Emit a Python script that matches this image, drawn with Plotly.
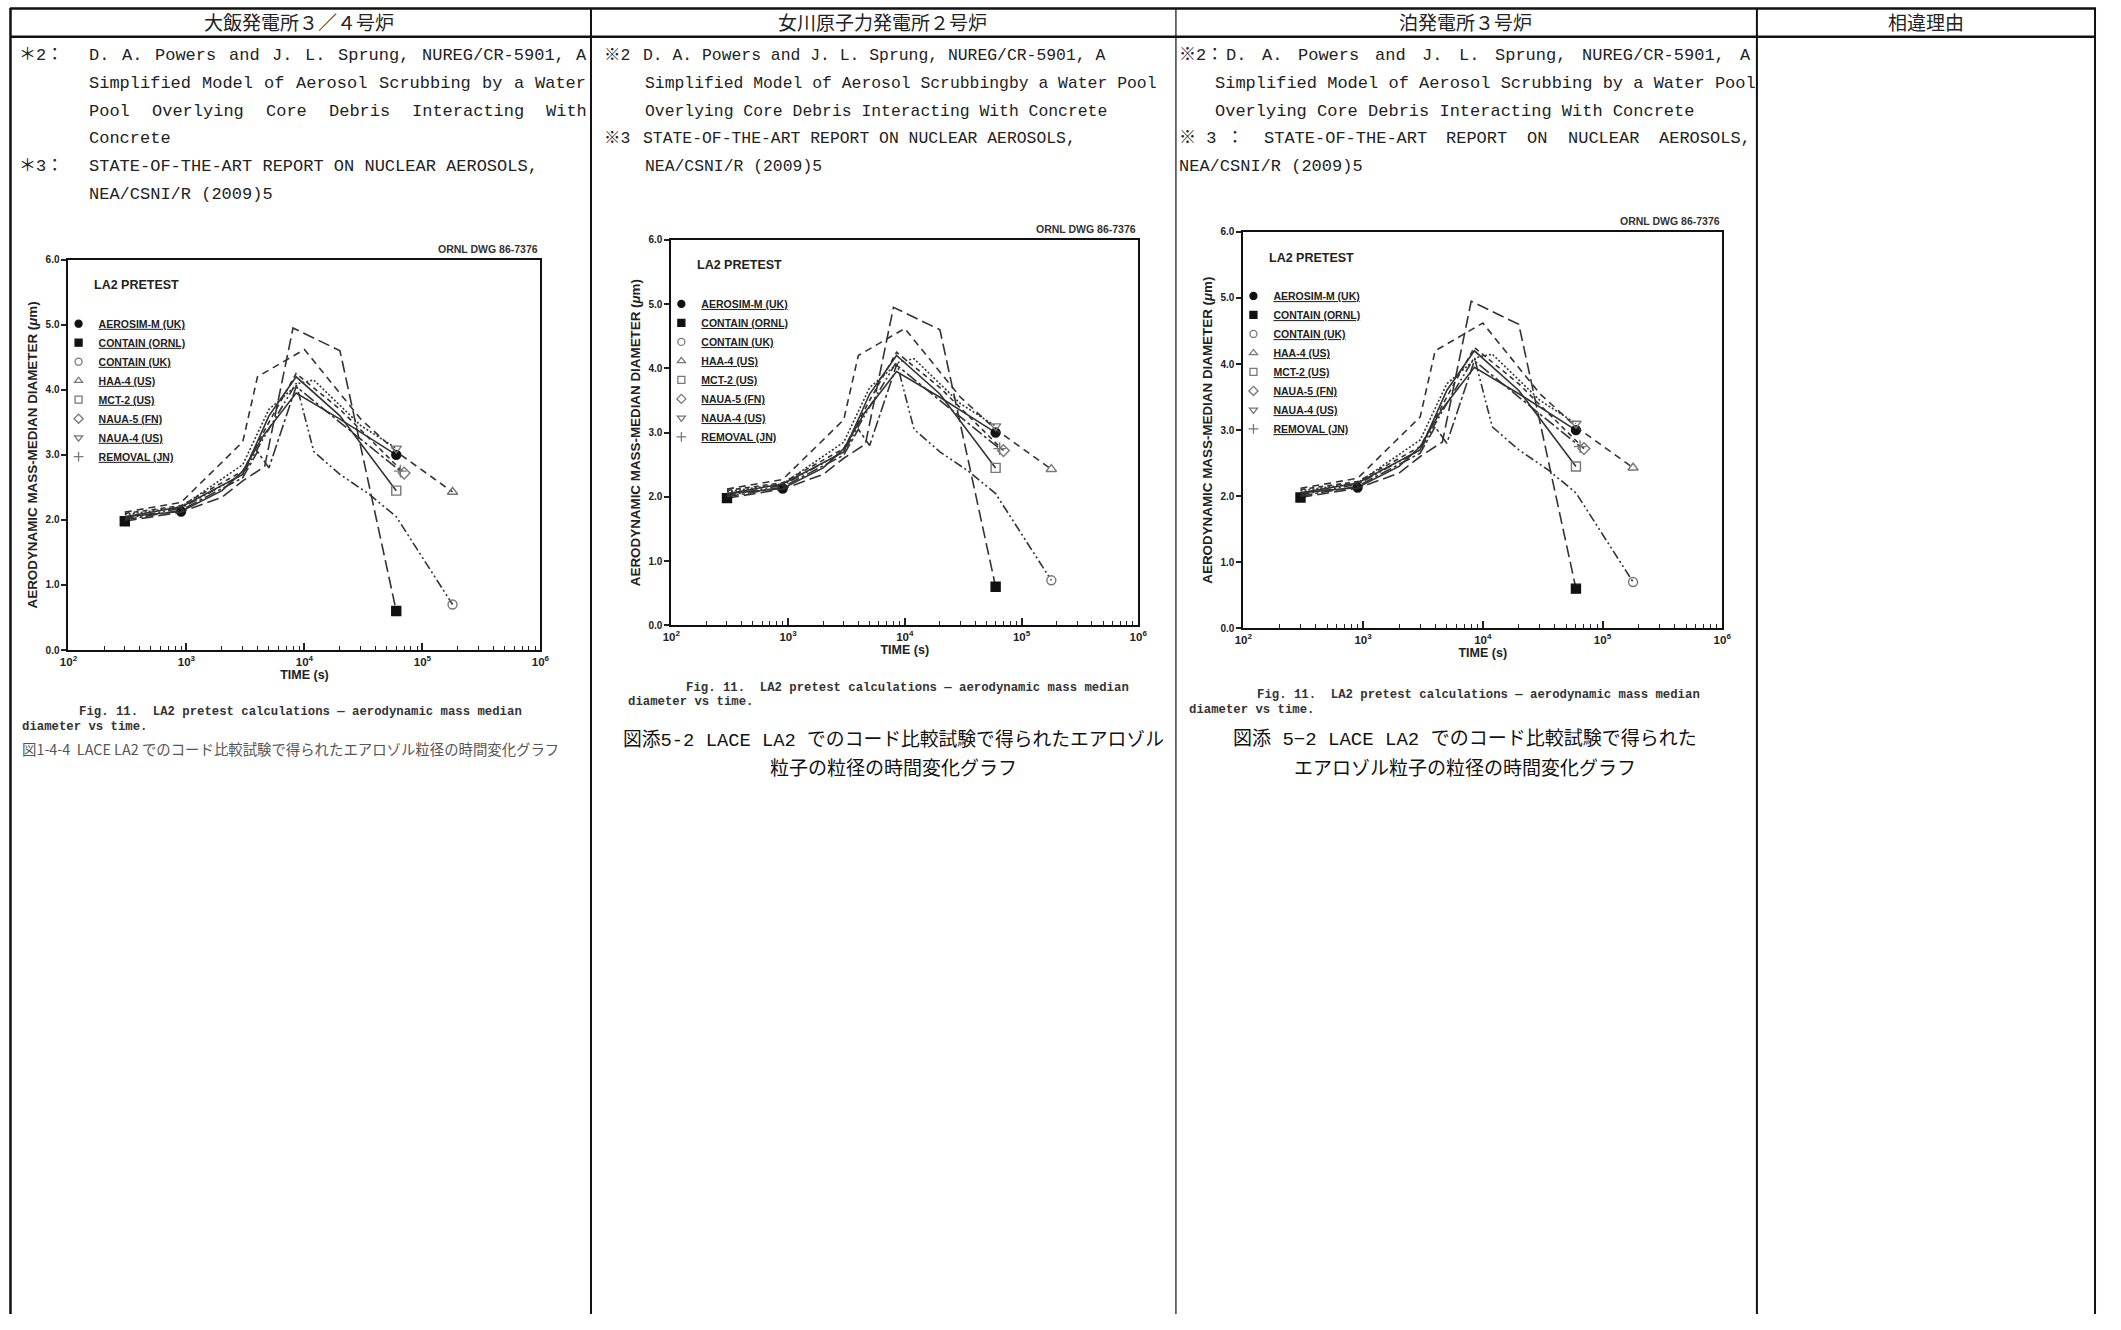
import numpy as np
import plotly.graph_objects as go

# The photographed page shows the figure inset by a small border, so the
# figure is sized to leave that border inside the 2121x1330 window.
OFF_X, OFF_Y = 8, 5
FW, FH = 2121 - 16, 1330 - 16

# ---------------- data ----------------
MODEL_NAMES = ["AEROSIM-M (UK)", "CONTAIN (ORNL)", "CONTAIN (UK)", "HAA-4 (US)",
               "MCT-2 (US)", "NAUA-5 (FN)", "NAUA-4 (US)", "REMOVAL (JN)"]

AEROSIM_TIME = [300, 900, 2000, 3000, 4500, 8500, 20000, 60000]
AEROSIM_DMM = [2.05, 2.13, 2.45, 2.75, 3.30, 3.95, 3.55, 3.00]

CONTAIN_ORNL_TIME = [300, 900, 2000, 3000, 4600, 8000, 20000, 60000]
CONTAIN_ORNL_DMM = [1.98, 2.12, 2.35, 2.60, 2.82, 4.95, 4.60, 0.60]

CONTAIN_UK_TIME = [300, 900, 3000, 5000, 8500, 12000, 20000, 35000, 60000, 180000]
CONTAIN_UK_DMM = [2.02, 2.18, 2.70, 3.40, 4.10, 3.05, 2.70, 2.40, 2.05, 0.70]

HAA4_TIME = [300, 900, 3000, 4000, 10000, 30000, 60000, 180000]
HAA4_DMM = [2.12, 2.27, 3.20, 4.20, 4.62, 3.55, 3.05, 2.43]

MCT2_TIME = [300, 900, 3000, 5000, 8500, 20000, 60000]
MCT2_DMM = [2.05, 2.20, 2.70, 3.60, 4.20, 3.60, 2.45]

NAUA5_TIME = [300, 900, 3000, 5000, 8500, 20000, 70000]
NAUA5_DMM = [2.10, 2.22, 2.75, 3.50, 4.25, 3.70, 2.72]

NAUA4_TIME = [300, 900, 3000, 5000, 9000, 12000, 30000, 60000]
NAUA4_DMM = [2.08, 2.20, 2.85, 3.70, 4.10, 4.15, 3.45, 3.10]

REMOVAL_TIME = [300, 900, 3000, 4000, 5000, 8500, 20000, 65000]
REMOVAL_DMM = [2.00, 2.15, 2.65, 3.05, 2.80, 4.05, 3.50, 2.75]

SERIES_TIME = [AEROSIM_TIME, CONTAIN_ORNL_TIME, CONTAIN_UK_TIME, HAA4_TIME,
               MCT2_TIME, NAUA5_TIME, NAUA4_TIME, REMOVAL_TIME]
SERIES_DMM = [AEROSIM_DMM, CONTAIN_ORNL_DMM, CONTAIN_UK_DMM, HAA4_DMM,
              MCT2_DMM, NAUA5_DMM, NAUA4_DMM, REMOVAL_DMM]

X_TICK_EXPONENTS = [2, 3, 4, 5, 6]
Y_TICKS = [0, 1, 2, 3, 4, 5, 6]
REFERENCE_TIME = 3000

HEADERS = ["大飯発電所３／４号炉", "女川原子力発電所２号炉", "泊発電所３号炉", "相違理由"]

# ---------------- styles ----------------
LINE_COLOR = "#333333"
STYLES = [
    dict(dash="solid", symbol="circle", mcolor="#111", marked=[1, -1]),
    dict(dash="12px,5px", symbol="square", mcolor="#111", marked=[0, -1]),
    dict(dash="9px,3px,2px,3px,2px,3px", symbol="circle-open", mcolor="#777", marked=[-1]),
    dict(dash="7px,5px", symbol="triangle-up-open", mcolor="#777", marked=[-1]),
    dict(dash="solid", symbol="square-open", mcolor="#777", marked=[-1]),
    dict(dash="5px,4px", symbol="diamond-open", mcolor="#777", marked=[-1]),
    dict(dash="2px,2px", symbol="triangle-down-open", mcolor="#777", marked=[-1]),
    dict(dash="12px,3px,3px,3px", symbol="cross-thin-open", mcolor="#777", marked=[-1]),
]

SANS = "Liberation Sans, Arial, sans-serif"
MONO = "Liberation Mono, Noto Sans CJK JP, monospace"
CJK = "Noto Sans CJK JP, sans-serif"

# chart boxes in page pixels: left, right, top, bottom
BOXES = [(68, 544, 261, 655), (676, 1147, 241, 630), (1253, 1736, 233, 633)]


def px(x):
    return (x - OFF_X) / FW


def py(y):
    return 1 - (y - OFF_Y) / FH


fig = go.Figure()
annotations = []
shapes = []


def ann(text, x, y, size, family, color="#222", xanchor="left", yanchor="middle", weight="normal"):
    annotations.append(dict(text=text, x=px(x), y=py(y), xref="paper", yref="paper",
                            showarrow=False, xanchor=xanchor, yanchor=yanchor,
                            font=dict(family=family, size=size, color=color, weight=weight)))


def justify(words, x0, x1, y, size):
    cw = 0.6 * size
    total = sum(len(w) for w in words) * cw
    gap = (x1 - x0 - total) / (len(words) - 1)
    x = x0
    for w in words:
        ann(w, x, y, size, MONO)
        x += len(w) * cw + gap


# ---------------- charts ----------------
for ci, (l, r, t, b) in enumerate(BOXES):
    sfx = "" if ci == 0 else str(ci + 1)
    xa, ya = "x" + sfx, "y" + sfx
    lid = "legend" + sfx
    for k, name in enumerate(MODEL_NAMES):
        st = STYLES[k]
        tx, dy = SERIES_TIME[k], SERIES_DMM[k]
        fig.add_trace(go.Scatter(x=tx, y=dy, mode="lines", showlegend=False,
                                 line=dict(color=LINE_COLOR, width=1.6, dash=st["dash"]),
                                 xaxis=xa, yaxis=ya, hoverinfo="skip"))
        mx = [tx[i] for i in st["marked"]]
        my = [dy[i] for i in st["marked"]]
        fig.add_trace(go.Scatter(x=mx, y=my, mode="markers", showlegend=False,
                                 marker=dict(symbol=st["symbol"], size=9, color=st["mcolor"],
                                             line=dict(width=1.4, color=st["mcolor"])),
                                 xaxis=xa, yaxis=ya))
        fig.add_trace(go.Scatter(x=[None], y=[None], mode="markers", name=name,
                                 legend=lid,
                                 marker=dict(symbol=st["symbol"], size=7, color=st["mcolor"],
                                             line=dict(width=1.3, color=st["mcolor"])),
                                 xaxis=xa, yaxis=ya))

    xkey = "xaxis" + sfx
    ykey = "yaxis" + sfx
    fig.update_layout(**{
        xkey: dict(type="log", range=[2, 6], domain=[px(l), px(r)], anchor=ya,
                   tickvals=[10 ** e for e in X_TICK_EXPONENTS],
                   ticktext=["10<sup>%d</sup>" % e for e in X_TICK_EXPONENTS],
                   ticks="inside", ticklen=7, tickwidth=1.5, tickcolor="#222",
                   minor=dict(dtick="D1", ticks="inside", ticklen=4, tickwidth=1, tickcolor="#222"),
                   showline=True, linecolor="#111", linewidth=2, mirror=True,
                   showgrid=False, zeroline=False,
                   tickfont=dict(family=SANS, size=11.5, color="#222", weight="bold"),
                   title=dict(text="TIME (s)", standoff=2,
                              font=dict(family=SANS, size=12.5, color="#222", weight="bold"))),
        ykey: dict(range=[0, 6], domain=[py(b), py(t)], anchor=xa,
                   tickvals=Y_TICKS, tickformat=".1f",
                   ticks="outside", ticklen=5, tickwidth=1.5, tickcolor="#222",
                   showline=True, linecolor="#111", linewidth=2, mirror=True,
                   showgrid=False, zeroline=False,
                   tickfont=dict(family=SANS, size=10, color="#222", weight="bold"),
                   title=dict(text="AERODYNAMIC MASS-MEDIAN DIAMETER (<i>μ</i>m)", standoff=5,
                              font=dict(family=SANS, size=13.4, color="#222", weight="bold"))),
        lid: dict(x=px(l - 10), y=py(t + 50), xanchor="left", yanchor="top",
                  bgcolor="rgba(0,0,0,0)", borderwidth=0, itemwidth=30, tracegroupgap=0,
                  font=dict(family=SANS, size=10.5, color="#222", weight="bold",
                            lineposition="under")),
    })
    shapes.append(dict(type="line", xref=xa, yref=ya + " domain",
                       x0=np.log10(REFERENCE_TIME), x1=np.log10(REFERENCE_TIME), y0=0, y1=1,
                       line=dict(color="#d0d0d0", width=1)))
    annotations.append(dict(text="LA2 PRETEST", xref=xa + " domain", yref=ya + " domain",
                            x=0.05, y=0.935, xanchor="left", yanchor="middle", showarrow=False,
                            font=dict(family=SANS, size=12.5, color="#222", weight="bold")))
    annotations.append(dict(text="ORNL DWG 86-7376", xref=xa + " domain", yref=ya + " domain",
                            x=1.0, y=1.0, xanchor="right", yanchor="bottom", yshift=3,
                            showarrow=False,
                            font=dict(family=SANS, size=10.5, color="#333", weight="bold")))

# ---------------- captions ----------------
FIG_CAP_1 = "Fig. 11.  LA2 pretest calculations — aerodynamic mass median"
FIG_CAP_2 = "diameter vs time."
for (x1, y1, x2, y2) in [(77, 718, 19, 733), (689, 693, 630, 707), (1265, 700, 1196, 715)]:
    ann(FIG_CAP_1, x1, y1, 12.3, "Liberation Mono, monospace", color="#333", weight="bold")
    ann(FIG_CAP_2, x2, y2, 12.3, "Liberation Mono, monospace", color="#333", weight="bold")

ann("図1-4-4  LACE LA2 でのコード比較試験で得られたエアロゾル粒径の時間変化グラフ",
    19, 754, 14.4, CJK, color="#555")
ann("図添5-2 LACE LA2 でのコード比較試験で得られたエアロゾル", 900, 746, 18.8, MONO,
    color="#111", xanchor="center")
ann("粒子の粒径の時間変化グラフ", 900, 776, 19, MONO, color="#111", xanchor="center")
ann("図添 5−2 LACE LA2 でのコード比較試験で得られた", 1477, 745, 19, MONO,
    color="#111", xanchor="center")
ann("エアロゾル粒子の粒径の時間変化グラフ", 1477, 776, 19, MONO, color="#111", xanchor="center")

# ---------------- table header ----------------
for txt, cx in zip(HEADERS, [300, 889, 1477, 1942]):
    ann(txt, cx, 21, 19, CJK, color="#222", xanchor="center")

# ---------------- table body text ----------------
LY = [55, 83, 111, 139, 167, 195]
# left column
ann("＊2：", 16, LY[0], 17, MONO)
justify("D. A. Powers and J. L. Sprung, NUREG/CR-5901, A".split(), 87, 588, LY[0], 17)
justify("Simplified Model of Aerosol Scrubbing by a Water".split(), 87, 588, LY[1], 17)
justify("Pool Overlying Core Debris Interacting With".split(), 87, 588, LY[2], 17)
ann("Concrete", 87, LY[3], 17, MONO)
ann("＊3：", 16, LY[4], 17, MONO)
ann("STATE-OF-THE-ART REPORT ON NUCLEAR AEROSOLS,", 87, LY[4], 17, MONO)
ann("NEA/CSNI/R (2009)5", 87, LY[5], 17, MONO)
# middle column
ann("※2", 606, LY[0], 16.4, MONO)
ann("D. A. Powers and J. L. Sprung, NUREG/CR-5901, A", 645, LY[0], 16.4, MONO)
ann("Simplified Model of Aerosol Scrubbingby a Water Pool", 647, LY[1], 16.4, MONO)
ann("Overlying Core Debris Interacting With Concrete", 647, LY[2], 16.4, MONO)
ann("※3", 606, LY[3], 16.4, MONO)
ann("STATE-OF-THE-ART REPORT ON NUCLEAR AEROSOLS,", 645, LY[3], 16.4, MONO)
ann("NEA/CSNI/R (2009)5", 647, LY[4], 16.4, MONO)
# right column
ann("※2：", 1186, LY[0], 17, MONO)
justify("D. A. Powers and J. L. Sprung, NUREG/CR-5901, A".split(), 1233, 1762, LY[0], 17)
ann("Simplified Model of Aerosol Scrubbing by a Water Pool", 1222, LY[1], 17, MONO)
ann("Overlying Core Debris Interacting With Concrete", 1222, LY[2], 17, MONO)
ann("※ 3 ：", 1186, LY[3], 17, MONO)
justify("STATE-OF-THE-ART REPORT ON NUCLEAR AEROSOLS,".split(), 1272, 1762, LY[3], 17)
ann("NEA/CSNI/R (2009)5", 1186, LY[4], 17, MONO)


# ---------------- table rules ----------------
def hline(y, x0, x1, w):
    shapes.append(dict(type="line", xref="paper", yref="paper", x0=px(x0), x1=px(x1),
                       y0=py(y), y1=py(y), line=dict(color="#111", width=w)))


def vline(x, y0, y1, w):
    shapes.append(dict(type="line", xref="paper", yref="paper", x0=px(x), x1=px(x),
                       y0=py(y0), y1=py(y1), line=dict(color="#111", width=w)))


hline(7.5, 9, 2113, 2.5)
hline(36, 9, 2113, 2.5)
vline(9.5, 7, 1335, 2.5)
vline(595, 7, 1335, 2)
vline(1185, 7, 1335, 1.2)
vline(1771, 7, 1335, 2)
vline(2112, 7, 1335, 2)

fig.update_layout(width=FW, height=FH, autosize=False,
                  margin=dict(l=0, r=0, t=0, b=0),
                  paper_bgcolor="white", plot_bgcolor="white",
                  showlegend=True, annotations=annotations, shapes=shapes)

fig.write_html("out.html", config={"displayModeBar": False},
               post_script="document.body.style.margin='0';")
